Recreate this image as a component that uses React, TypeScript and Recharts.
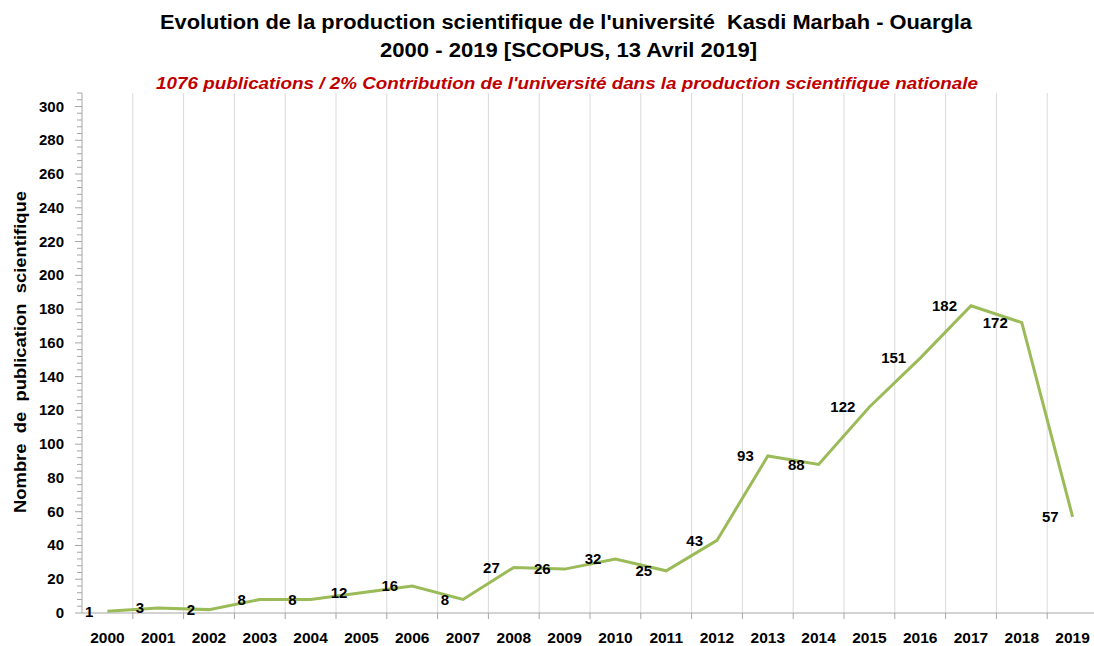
import { CartesianGrid, Label, LabelList, Line, LineChart, XAxis, YAxis } from "recharts";

const years = [
  "2000", "2001", "2002", "2003", "2004", "2005", "2006", "2007", "2008", "2009",
  "2010", "2011", "2012", "2013", "2014", "2015", "2016", "2017", "2018", "2019",
];
const publications = [1, 3, 2, 8, 8, 12, 16, 8, 27, 26, 32, 25, 43, 93, 88, 122, 151, 182, 172, 57];

// major labels every 20, small ticks every 4
const yMax = 308;
const yTicks = Array.from({ length: yMax / 4 + 1 }, (_, i) => i * 4);

const titleLines = [
  "Evolution de la production scientifique de l'université  Kasdi Marbah - Ouargla",
  "2000 - 2019 [SCOPUS, 13 Avril 2019]",
];
const subtitle = "1076 publications / 2% Contribution de l'université dans la production scientifique nationale";
const yTitle = "Nombre  de  publication  scientifique";

const data = years.map((year, i) => ({ year, value: publications[i] }));

const W = 1094;
const H = 646;
const TOP = 93;
const X_AXIS_H = 33;
const Y_AXIS_W = 82;
const PLOT_BOTTOM = H - X_AXIS_H;

const FONT = "'Liberation Sans', Arial, sans-serif";
const TITLE_FONT = "'Liberation Sans Narrow', 'Liberation Sans', Arial, sans-serif";
const AXIS_COLOR = "#a6a6a6";
const GRID_COLOR = "#d9d9d9";
const LINE_COLOR = "#9bbb59";

// eslint-disable-next-line @typescript-eslint/no-explicit-any
const YTick = (props: any) => {
  const { y, payload } = props;
  const major = payload.value % 20 === 0;
  return (
    <g>
      <line
        x1={Y_AXIS_W - (major ? 7 : 5)}
        x2={Y_AXIS_W}
        y1={y}
        y2={y}
        stroke={AXIS_COLOR}
      />
      {major && (
        <text
          x={64}
          y={y}
          dy={5}
          textAnchor="end"
          fontFamily={FONT}
          fontWeight="bold"
          fontSize={15}
          fill="#000"
        >
          {payload.value}
        </text>
      )}
    </g>
  );
};

// eslint-disable-next-line @typescript-eslint/no-explicit-any
const XTick = (props: any) => {
  const { x, payload } = props;
  const half = payload.offset || (W - Y_AXIS_W) / years.length / 2;
  return (
    <g>
      {payload.index > 0 && (
        <line x1={x - half} x2={x - half} y1={PLOT_BOTTOM} y2={PLOT_BOTTOM + 6} stroke={AXIS_COLOR} />
      )}
      <text
        x={x}
        y={643}
        textAnchor="middle"
        fontFamily={FONT}
        fontWeight="bold"
        fontSize={15.5}
        fill="#000"
      >
        {payload.value}
      </text>
    </g>
  );
};

// gridlines sit on the category boundaries, not on the centres
// eslint-disable-next-line @typescript-eslint/no-explicit-any
const boundaryLines = ({ offset }: any) =>
  years.slice(1).map((_, i) => offset.left + ((i + 1) * offset.width) / years.length);

const App = () => {
  return (
    <div style={{ position: "absolute", left: 0, top: 0, width: W, height: H, background: "#fff" }}>
      <svg
        width={W}
        height={100}
        style={{ position: "absolute", left: 0, top: 0, pointerEvents: "none" }}
      >
        <text
          x={160}
          y={29}
          textLength={812}
          lengthAdjust="spacingAndGlyphs"
          fontFamily={TITLE_FONT}
          fontWeight="bold"
          fontSize={20}
          fill="#000"
          style={{ whiteSpace: "pre" }}
        >
          {titleLines[0]}
        </text>
        <text
          x={380}
          y={57}
          textLength={377}
          lengthAdjust="spacingAndGlyphs"
          fontFamily={TITLE_FONT}
          fontWeight="bold"
          fontSize={20}
          fill="#000"
        >
          {titleLines[1]}
        </text>
        <text
          x={156}
          y={89}
          textLength={822}
          lengthAdjust="spacingAndGlyphs"
          fontFamily={TITLE_FONT}
          fontWeight="bold"
          fontStyle="italic"
          fontSize={17}
          fill="#c00000"
        >
          {subtitle}
        </text>
      </svg>
      <LineChart width={W} height={H} data={data} margin={{ top: TOP, right: -4, bottom: 0, left: 0 }}>
        <CartesianGrid horizontal={false} stroke={GRID_COLOR} verticalCoordinatesGenerator={boundaryLines} />
        <XAxis
          dataKey="year"
          scale="band"
          height={X_AXIS_H}
          interval={0}
          tickLine={false}
          stroke={AXIS_COLOR}
          tick={<XTick />}
        />
        <YAxis
          width={Y_AXIS_W}
          domain={[0, yMax]}
          ticks={yTicks}
          interval={0}
          tickLine={false}
          stroke={AXIS_COLOR}
          tick={<YTick />}
        >
          <Label
            content={() => (
              <text
                x={20}
                y={352}
                transform="rotate(-90 20 352)"
                textAnchor="middle"
                dominantBaseline="central"
                textLength={322}
                lengthAdjust="spacingAndGlyphs"
                fontFamily={FONT}
                fontWeight="bold"
                fontSize={17}
                fill="#000"
                style={{ whiteSpace: "pre" }}
              >
                {yTitle}
              </text>
            )}
          />
        </YAxis>
        <Line
          type="linear"
          dataKey="value"
          stroke={LINE_COLOR}
          strokeWidth={3}
          dot={false}
          activeDot={false}
          isAnimationActive={false}
        >
          <LabelList
            dataKey="value"
            position="left"
            offset={14}
            fontFamily={FONT}
            fontWeight="bold"
            fontSize={15}
            fill="#000"
          />
        </Line>
      </LineChart>
    </div>
  );
};

export default App;
